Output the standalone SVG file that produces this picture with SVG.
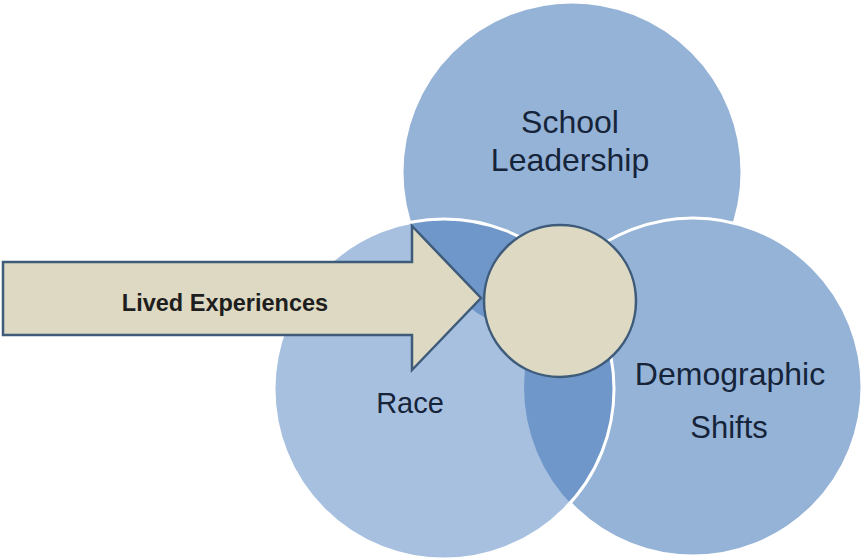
<svg xmlns="http://www.w3.org/2000/svg" width="862" height="559" viewBox="0 0 862 559">
  <defs>
    <clipPath id="clipLeft">
      <circle cx="444" cy="389" r="170"/>
    </clipPath>
    <style>
      .big { fill: #95b3d7; stroke: #ffffff; stroke-width: 3; }
      .lens { fill: #6f97c9; }
      .beige { fill: #ddd9c3; stroke: #3f5b7a; stroke-width: 2.5; }
      .lbl { font-family: "Liberation Sans", Arial, sans-serif; font-size: 32px; fill: #16243a; text-anchor: middle; }
      .arrowlbl { font-family: "Liberation Sans", Arial, sans-serif; font-size: 23.5px; font-weight: bold; fill: #1e1e1e; text-anchor: middle; }
    </style>
  </defs>
  <rect width="862" height="559" fill="#ffffff"/>

  <g id="node-school-leadership">
    <circle class="big" cx="572" cy="172" r="170"/>
  </g>

  <g id="node-demographic-shifts">
    <circle class="big" cx="693" cy="387" r="169"/>
  </g>

  <g id="node-race">
    <circle cx="444" cy="389" r="170" fill="#a7c0e0"/>
    <g clip-path="url(#clipLeft)">
      <circle class="lens" cx="572" cy="172" r="170"/>
      <circle class="lens" cx="693" cy="387" r="169"/>
    </g>
    <circle cx="444" cy="389" r="170" fill="none" stroke="#ffffff" stroke-width="3"/>
  </g>

  <g id="node-center">
    <circle class="beige" cx="560" cy="301" r="76"/>
  </g>

  <g id="node-lived-experiences">
    <path class="beige" d="M3,262 L412,262 L412,226 L481,298 L412,370 L412,335 L3,335 Z" stroke-linejoin="miter"/>
    <text class="arrowlbl" x="225" y="311">Lived Experiences</text>
  </g>

  <g id="labels">
    <text class="lbl" x="570" y="133">School</text>
    <text class="lbl" x="570" y="171">Leadership</text>
    <text class="lbl" x="410" y="413" style="font-size:29px">Race</text>
    <text class="lbl" x="730" y="385">Demographic</text>
    <text class="lbl" x="729" y="438" style="font-size:31px">Shifts</text>
  </g>

  <g id="connectors"></g>
</svg>
